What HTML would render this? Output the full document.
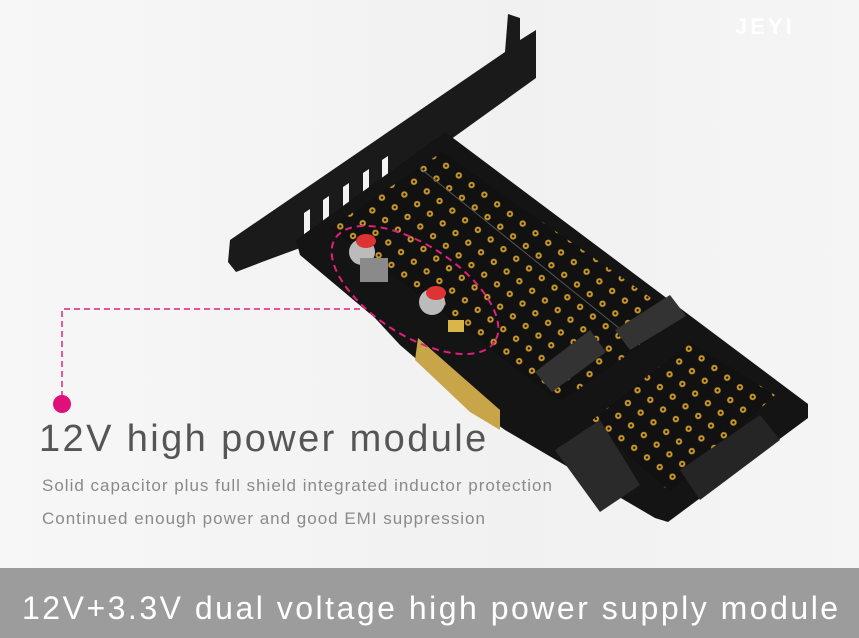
<!DOCTYPE html>
<html><head><meta charset="utf-8"><style>
html,body{margin:0;padding:0}
body{width:859px;height:638px;overflow:hidden;position:relative;background:linear-gradient(90deg,#f7f7f7,#f1f1f1 60%,#f5f5f5);font-family:"Liberation Sans",sans-serif}
.t{position:absolute;white-space:nowrap}
</style></head><body>
<svg width="859" height="638" style="position:absolute;left:0;top:0">
<defs>
<pattern id="dots" width="16" height="16" patternUnits="userSpaceOnUse" patternTransform="rotate(37)">
<rect width="16" height="16" fill="#111"/><circle cx="8" cy="8" r="3.2" fill="#c8962a"/><circle cx="8" cy="8" r="1.2" fill="#111"/>
</pattern>
</defs>
<polygon points="508,14 520,18 520,40 536,30 536,78 300,248 262,262 236,272 228,262 230,240 505,52" fill="#1a1a1a"/>
<g fill="#f2f2f2">
<polygon points="382,160 388,156 388,185 382,189"/>
<polygon points="363,173 369,169 369,198 363,202"/>
<polygon points="343,187 349,183 349,212 343,216"/>
<polygon points="323,200 329,196 329,225 323,229"/>
<polygon points="304,213 310,209 310,238 304,242"/>
</g>
<polygon points="445,132 808,404 808,418 668,522 655,518 505,430 470,405 400,345 375,318 300,255 296,240" fill="#141414"/>
<polygon points="418,338 500,410 500,430 470,412 415,360" fill="#c9a54a"/>
<polygon points="395,318 415,336 412,352 392,332" fill="#141414"/>
<polygon points="330,228 442,152 680,318 560,402" fill="url(#dots)"/>
<polygon points="590,422 690,342 775,395 670,492" fill="url(#dots)"/>
<line x1="420" y1="168" x2="640" y2="345" stroke="#555" stroke-width="1"/>
<polygon points="535,372 590,330 606,352 552,392" fill="#333"/>
<polygon points="615,330 670,295 686,316 630,350" fill="#333"/>
<polygon points="555,450 600,420 640,485 600,512" fill="#2a2a2a"/>
<polygon points="680,470 760,415 780,440 700,500" fill="#252525"/>
<circle cx="362" cy="252" r="13" fill="#bbb"/><ellipse cx="366" cy="241" rx="10" ry="7" fill="#d33"/>
<rect x="360" y="258" width="28" height="24" fill="#8a8a8a"/>
<circle cx="432" cy="302" r="13" fill="#bbb"/><ellipse cx="436" cy="293" rx="10" ry="7" fill="#d33"/>
<rect x="448" y="320" width="16" height="12" fill="#d9b54a"/>
<ellipse cx="415" cy="290" rx="95" ry="45" transform="rotate(33 415 290)" fill="none" stroke="#e0207a" stroke-width="2" stroke-dasharray="7,5"/>
<polyline points="360,309 62,309 62,398" fill="none" stroke="#e0207a" stroke-width="1.5" stroke-dasharray="6,4"/>
<circle cx="62" cy="404" r="9" fill="#e0107a"/>
<rect x="0" y="568" width="859" height="70" fill="#9c9c9c"/>
</svg>
<div class="t" style="left:735px;top:14px;font-size:22px;font-weight:bold;color:#fff;letter-spacing:3px">JEYI</div>
<div class="t" style="left:39px;top:418px;font-size:38px;color:#555;letter-spacing:2.4px">12V high power module</div>
<div class="t" style="left:42px;top:476px;font-size:17px;color:#8a8a8a;letter-spacing:1.0px">Solid capacitor plus full shield integrated inductor protection</div>
<div class="t" style="left:42px;top:509px;font-size:17px;color:#8a8a8a;letter-spacing:1.0px">Continued enough power and good EMI suppression</div>
<div class="t" style="left:22px;top:590px;font-size:32px;color:#fff;letter-spacing:2.5px">12V+3.3V dual voltage high power supply module</div>
</body></html>
